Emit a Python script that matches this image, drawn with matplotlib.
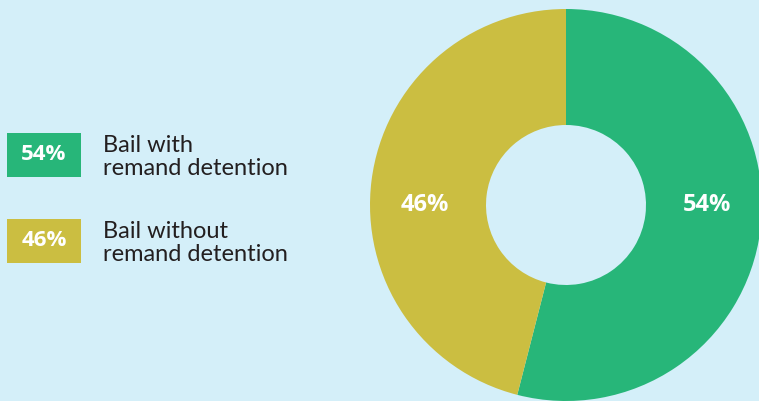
import matplotlib
matplotlib.use("Agg")
import matplotlib.pyplot as plt
from matplotlib.patches import Rectangle

plt.rcParams['font.family'] = ['Lato', 'DejaVu Sans']

categories = ["Bail with\nremand detention", "Bail without\nremand detention"]
shares = [54, 46]
colors = ["#27B679", "#CBBE41"]
background = "#D4EFF9"
text_dark = "#231F20"
pct_font = ['Open Sans', 'DejaVu Sans']

W, H = 759, 401
fig = plt.figure(figsize=(W / 100, H / 100), dpi=100)
fig.patch.set_facecolor(background)
ax = fig.add_axes([0, 0, 1, 1])
ax.set_facecolor(background)

# donut, in pixel-like data coordinates
cx, cy = 566, H - 205
r_out, r_in = 196, 80
ax.pie(shares, colors=colors, startangle=90, counterclock=False,
       center=(cx, cy), radius=r_out,
       wedgeprops=dict(width=r_out - r_in, linewidth=0))

# percentage labels on the ring, kept level with the centre
ring_mid = 141
ax.text(cx + ring_mid, cy, f"{shares[0]}%", color="white", fontsize=17,
        fontweight="bold", family=pct_font, ha="center", va="center")
ax.text(cx - ring_mid, cy, f"{shares[1]}%", color="white", fontsize=17,
        fontweight="bold", family=pct_font, ha="center", va="center")

# legend boxes
box_tops = [133, 219]
for top, share, color, label in zip(box_tops, shares, colors, categories):
    ax.add_patch(Rectangle((7, H - top - 44), 74, 44, facecolor=color,
                           edgecolor="none"))
    ax.text(44, H - top - 22, f"{share}%", color="white", fontsize=16,
            fontweight="bold", family=pct_font, ha="center", va="center")
    ax.text(103, H - top - 24, label, color=text_dark, fontsize=17,
            ha="left", va="center", linespacing=1.12)

ax.set_xlim(0, W)
ax.set_ylim(0, H)
ax.set_aspect("auto")
ax.axis("off")

fig.savefig("out.png", dpi=100, facecolor=background)
